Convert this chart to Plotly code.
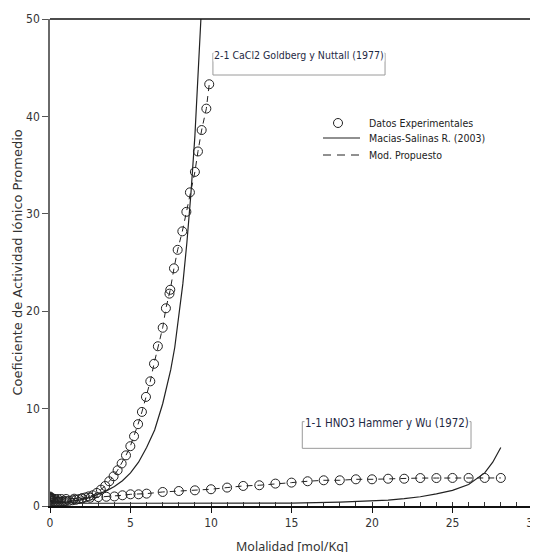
import plotly.graph_objects as go

# ---- Experimental data: CaCl2 (Goldberg y Nuttall, 1977) ----
cacl2_exp_x = [0.001, 0.005, 0.01, 0.02, 0.05, 0.1, 0.2, 0.3, 0.4, 0.5, 0.6, 0.7, 0.8, 0.9,
               1.0, 1.2, 1.4, 1.6, 1.8, 2.0, 2.2, 2.4, 2.65, 2.9, 3.16, 3.43, 3.68, 3.95,
               4.2, 4.45, 4.72, 4.99, 5.22, 5.47, 5.71, 5.96, 6.23, 6.46, 6.7, 7.0, 7.2,
               7.42, 7.47, 7.7, 7.93, 8.22, 8.47, 8.69, 9.0, 9.19, 9.42, 9.71, 9.89]
cacl2_exp_y = [0.89, 0.79, 0.73, 0.66, 0.57, 0.52, 0.47, 0.46, 0.45, 0.45, 0.45, 0.46, 0.47, 0.48,
               0.50, 0.54, 0.59, 0.64, 0.71, 0.79, 0.88, 0.99, 1.10, 1.34, 1.68, 2.06, 2.54, 3.05,
               3.67, 4.36, 5.20, 6.14, 7.16, 8.40, 9.66, 11.2, 12.8, 14.6, 16.4, 18.3, 20.3,
               21.8, 22.2, 24.4, 26.3, 28.2, 30.2, 32.2, 34.3, 36.4, 38.6, 40.8, 43.3]

# ---- Experimental data: HNO3 (Hammer y Wu, 1972) ----
hno3_exp_x = [0.001, 0.01, 0.05, 0.1, 0.2, 0.3, 0.5, 0.7, 1.0, 1.5, 2.0, 2.5, 3.0, 3.5, 4.0,
              4.5, 5.0, 5.5, 6.0, 7.0, 8.0, 9.0, 10.0, 11.0, 12.0, 13.0, 14.0, 15.0, 16.0,
              17.0, 18.0, 19.0, 20.0, 21.0, 22.0, 23.0, 24.0, 25.0, 26.0, 27.0, 28.0]
hno3_exp_y = [0.97, 0.90, 0.82, 0.79, 0.75, 0.73, 0.72, 0.72, 0.72, 0.75, 0.79, 0.85, 0.91, 0.95, 0.98,
              1.10, 1.20, 1.20, 1.27, 1.44, 1.54, 1.61, 1.72, 1.89, 2.06, 2.13, 2.30, 2.40, 2.54,
              2.64, 2.64, 2.74, 2.74, 2.80, 2.80, 2.87, 2.87, 2.88, 2.88, 2.88, 2.88]

# ---- Macias-Salinas R. (2003) model ----
ms_cacl2_x = [0.001, 0.01, 0.1, 0.3, 0.5, 1.0, 1.5, 2.0, 2.5, 3.0, 3.5, 4.0, 4.5, 5.0, 5.5, 6.0,
              6.5, 7.0, 7.5, 7.75, 8.0, 8.25, 8.5, 8.75, 9.0, 9.25, 9.45]
ms_cacl2_y = [0.88, 0.72, 0.48, 0.40, 0.38, 0.40, 0.50, 0.65, 0.88, 1.20, 1.55, 2.00, 2.60, 3.40,
              4.50, 6.00, 7.80, 10.5, 14.0, 16.3, 19.3, 22.8, 27.0, 32.0, 38.0, 45.5, 52.5]

ms_hno3_x = [0.001, 0.01, 0.1, 0.5, 1.0, 2.0, 5.0, 10.0, 15.0, 18.0, 20.0, 21.0, 22.0, 23.0,
             24.0, 25.0, 26.0, 27.0, 27.5, 28.0]
ms_hno3_y = [0.95, 0.80, 0.55, 0.40, 0.35, 0.30, 0.28, 0.28, 0.30, 0.40, 0.50, 0.60, 0.75, 0.95,
             1.25, 1.60, 2.20, 3.40, 4.50, 6.00]

# ---- Modelo propuesto (follows the experimental data) ----
mp_cacl2_x = cacl2_exp_x
mp_cacl2_y = cacl2_exp_y
mp_hno3_x = hno3_exp_x
mp_hno3_y = hno3_exp_y

# ---- labels ----
x_ticks = [0, 5, 10, 15, 20, 25, 30]
y_ticks = [0, 10, 20, 30, 40, 50]
x_title = "Molalidad [mol/Kg]"
y_title = "Coeficiente de Actividad Iónico Promedio"
label_cacl2 = "2-1 CaCl2 Goldberg y Nuttall (1977)"
label_hno3 = "1-1 HNO3 Hammer y Wu (1972)"
legend_names = ["Datos Experimentales", "Macias-Salinas R. (2003)", "Mod. Propuesto"]

INK = "#222222"
DASH = "6px,5px"

fig = go.Figure()

# model propuesto (dashed)
for xs, ys in [(mp_cacl2_x, mp_cacl2_y), (mp_hno3_x, mp_hno3_y)]:
    fig.add_trace(go.Scatter(x=xs, y=ys, mode="lines", name=legend_names[2],
                             line=dict(color=INK, width=1, dash=DASH), showlegend=False))
# Macias-Salinas (solid)
for xs, ys in [(ms_cacl2_x, ms_cacl2_y), (ms_hno3_x, ms_hno3_y)]:
    fig.add_trace(go.Scatter(x=xs, y=ys, mode="lines", name=legend_names[1],
                             line=dict(color=INK, width=1.2), showlegend=False))
# experimental (open circles)
for xs, ys in [(cacl2_exp_x, cacl2_exp_y), (hno3_exp_x, hno3_exp_y)]:
    fig.add_trace(go.Scatter(x=xs, y=ys, mode="markers", name=legend_names[0],
                             marker=dict(symbol="circle-open", size=9, color=INK, line=dict(width=1)),
                             showlegend=False))

# bracket boxes behind the labels
box_style = dict(type="rect", xref="x", yref="y", line=dict(color="#9a9a9a", width=1),
                 fillcolor="rgba(0,0,0,0)", layer="above")
fig.add_shape(x0=10.12, x1=20.81, y0=44.25, y1=46.5, **box_style)
fig.add_shape(x0=15.67, x1=26.15, y0=5.92, y1=8.66, **box_style)

ann_family = "Liberation Sans Narrow, DejaVu Sans Condensed, Arial Narrow, sans-serif"
fig.add_annotation(x=(10.12 + 20.81) / 2, y=46.3, xref="x", yref="y", text=label_cacl2,
                   showarrow=False, font=dict(family=ann_family, size=10.5, color="#1f2a44"),
                   bgcolor="white", borderpad=0)
fig.add_annotation(x=(15.67 + 26.15) / 2, y=8.52, xref="x", yref="y", text=label_hno3,
                   showarrow=False, font=dict(family=ann_family, size=11.4, color="#1f2a44"),
                   bgcolor="white", borderpad=0)

# manual legend (pixel positions converted to paper coordinates)
def px_x(a):
    return (a - 50) / 483.0

def px_y(a):
    return (506 - a) / 487.0

leg_font = dict(family="DejaVu Sans Condensed, DejaVu Sans, sans-serif", size=10.5, color="#222222")
leg_rows = [123, 138, 155]
fig.add_shape(type="circle", xref="paper", yref="paper", xsizemode="pixel", ysizemode="pixel",
              xanchor=px_x(338), yanchor=px_y(leg_rows[0]), x0=-4.5, x1=4.5, y0=-4.5, y1=4.5,
              line=dict(color=INK, width=1))
fig.add_shape(type="line", xref="paper", yref="paper", x0=px_x(323), x1=px_x(360),
              y0=px_y(leg_rows[1]), y1=px_y(leg_rows[1]), line=dict(color=INK, width=1.2))
fig.add_shape(type="line", xref="paper", yref="paper", x0=px_x(323), x1=px_x(360),
              y0=px_y(leg_rows[2]), y1=px_y(leg_rows[2]), line=dict(color=INK, width=1, dash="8px,6px"))
for name, row in zip(legend_names, leg_rows):
    fig.add_annotation(x=px_x(367), y=px_y(row), xref="paper", yref="paper", xanchor="left",
                       yanchor="middle", text=name, showarrow=False, font=leg_font)

# axis titles
fig.add_annotation(x=0.5, y=0, xref="paper", yref="paper", yshift=-40, yanchor="middle",
                   text=x_title, showarrow=False,
                   font=dict(family="Noto Sans, Open Sans, sans-serif", size=12.5, color="#333333"))
fig.add_annotation(x=0, y=0.5, xref="paper", yref="paper", xshift=-33, xanchor="center",
                   text=y_title, textangle=-90, showarrow=False,
                   font=dict(family="DejaVu Sans, sans-serif", size=13, color="#333333"))

# top and right frame lines
fig.add_shape(type="line", xref="paper", yref="paper", x0=0, x1=1, y0=1, y1=1,
              line=dict(color="#111111", width=1.5))
fig.add_shape(type="line", xref="paper", yref="paper", x0=1, x1=1, y0=0, y1=1,
              line=dict(color="#111111", width=1))

tick_font = dict(family="Liberation Sans Narrow, DejaVu Sans Condensed, sans-serif", size=12,
                 color="#333333")

fig.update_layout(
    width=538, height=552,
    margin=dict(l=42, r=13, t=11, b=54),
    paper_bgcolor="white", plot_bgcolor="white",
    showlegend=False,
    xaxis=dict(range=[0, 30], tickmode="array", tickvals=x_ticks, ticktext=[str(v) for v in x_ticks],
               showgrid=False, zeroline=False, showline=True, linecolor="#111111", linewidth=2,
               ticks="outside", ticklen=5, tickwidth=1, tickcolor="#111111", tickfont=tick_font,
               automargin=False,
               minor=dict(ticks="inside", dtick=1, ticklen=4, tickwidth=1, tickcolor="#333333",
                          showgrid=False)),
    xaxis2=dict(range=[0, 30], overlaying="x", anchor="y", side="bottom", tickmode="array",
                tickvals=x_ticks, showticklabels=False, showgrid=False, zeroline=False,
                showline=False, ticks="inside", ticklen=5, tickwidth=1, tickcolor="#111111",
                automargin=False),
    yaxis=dict(range=[0, 50], tickmode="array", tickvals=y_ticks, ticktext=[str(v) for v in y_ticks],
               showgrid=False, zeroline=False, showline=True, linecolor="#6a6a6a", linewidth=1.5,
               ticks="outside", ticklen=6, tickwidth=1, tickcolor="#555555", tickfont=tick_font,
               ticklabelstandoff=0, automargin=False),
)

fig.write_html("out.html")
